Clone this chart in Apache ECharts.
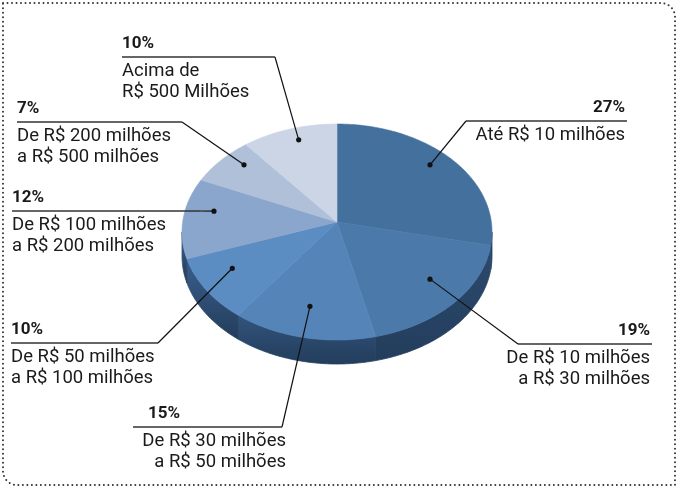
<!DOCTYPE html>
<html>
<head>
<meta charset="utf-8">
<script src="https://cdn.jsdelivr.net/npm/echarts@6/dist/echarts.min.js"></script>
<style>
  html, body { margin: 0; padding: 0; background: #fff; }
  #main { width: 678px; height: 490px; }
</style>
</head>
<body>
<div id="main"></div>
<script>
// faixas de faturamento, no sentido horário a partir do topo
const faixas = [
  'Até R$ 10 milhões',
  'De R$ 10 milhões\na R$ 30 milhões',
  'De R$ 30 milhões\na R$ 50 milhões',
  'De R$ 50 milhões\na R$ 100 milhões',
  'De R$ 100 milhões\na R$ 200 milhões',
  'De R$ 200 milhões\na R$ 500 milhões',
  'Acima de\nR$ 500 Milhões'
]
const percentuais = [27, 19, 15, 10, 12, 7, 10]

const coresTopo = ['#44709e', '#4b79aa', '#5585b8', '#5b8cc2', '#8aa6cd', '#b0c0d9', '#cbd5e5']
const coresLado = ['#2a4668', '#2c4a6e', '#32547c', '#3a5f8c', '#3a5e8a', '#3a5e8a', '#3a5e8a']

// posição dos rótulos: sublinhado de x0 a x1 na altura y, e ponto onde chega a linha guia
const rotulos = [
  { x0: 466, x1: 627, y: 121, pctX: 625, pctAlign: 'right', txtX: 625, txtAlign: 'right', ligaEm: 'x0' },
  { x0: 518, x1: 652, y: 344, pctX: 650, pctAlign: 'right', txtX: 650, txtAlign: 'right', ligaEm: 'x0' },
  { x0: 133, x1: 282, y: 427, pctX: 148, pctAlign: 'left', txtX: 286, txtAlign: 'right', ligaEm: 'x1' },
  { x0: 11, x1: 158, y: 343, pctX: 11, pctAlign: 'left', txtX: 11, txtAlign: 'left', ligaEm: 'x1' },
  { x0: 12, x1: 200, y: 211, pctX: 12, pctAlign: 'left', txtX: 12, txtAlign: 'left', ligaEm: 'x1' },
  { x0: 17, x1: 182, y: 122, pctX: 17, pctAlign: 'left', txtX: 17, txtAlign: 'left', ligaEm: 'x1' },
  { x0: 122, x1: 275, y: 57, pctX: 122, pctAlign: 'left', txtX: 122, txtAlign: 'left', ligaEm: 'x1' }
]

const myChart = echarts.init(document.getElementById('main'))

const cx = 337, cy = 232, rx = 155, ry = 108
const apexY = 222
const espessura = 24
const total = percentuais.reduce((a, b) => a + b, 0)
const inicio = []
percentuais.reduce((acc, v, i) => { inicio[i] = acc; return acc + v }, 0)

function borda (graus, dy) {
  const t = graus * Math.PI / 180
  return [cx + rx * Math.sin(t), cy - ry * Math.cos(t) + (dy || 0)]
}

function renderFatia (params, api) {
  const i = params.dataIndex
  const v = api.value(0)
  const a1 = inicio[i] / total * 360
  const a2 = a1 + v / total * 360
  const children = []

  // lateral visível (metade da frente)
  const s = Math.max(a1, 90), e = Math.min(a2, 270)
  if (e > s) {
    const pts = []
    for (let a = s; a < e; a += 1) pts.push(borda(a))
    pts.push(borda(e))
    for (let a = e; a > s; a -= 1) pts.push(borda(a, espessura))
    pts.push(borda(s, espessura))
    const grad = new echarts.graphic.LinearGradient(0, 0, 0, 1, [
      { offset: 0, color: coresLado[i] },
      { offset: 1, color: '#233d5c' }
    ])
    children.push({
      type: 'polygon',
      z2: 1,
      shape: { points: pts },
      style: { fill: grad, stroke: grad, lineWidth: 0.8 }
    })
  }

  // topo
  const topo = [[cx, apexY]]
  for (let a = a1; a < a2; a += 1) topo.push(borda(a))
  topo.push(borda(a2))
  children.push({
    type: 'polygon',
    z2: 2,
    shape: { points: topo },
    style: { fill: coresTopo[i], stroke: coresTopo[i], lineWidth: 0.6 }
  })

  // ponto e linha guia
  const meio = (a1 + a2) / 2 * Math.PI / 180
  const px = cx + rx * 0.8 * Math.sin(meio)
  const py = apexY - ry * 0.8 * Math.cos(meio)
  const r = rotulos[i]
  const lx = r.ligaEm === 'x0' ? r.x0 : r.x1
  children.push({
    type: 'polyline',
    z2: 10,
    shape: { points: [[px, py], [lx, r.y]] },
    style: { stroke: '#111', lineWidth: 1.2, fill: null }
  })
  children.push({
    type: 'line',
    z2: 10,
    shape: { x1: r.x0, y1: r.y, x2: r.x1, y2: r.y },
    style: { stroke: '#333', lineWidth: 1.4 }
  })
  children.push({
    type: 'circle',
    z2: 11,
    shape: { cx: px, cy: py, r: 2.6 },
    style: { fill: '#111' }
  })

  // textos
  children.push({
    type: 'text',
    z2: 12,
    style: {
      x: r.pctX, y: r.y - 13,
      text: v + '%',
      fill: '#1a1a1a',
      font: 'bold 17px Roboto',
      align: r.pctAlign,
      verticalAlign: 'middle'
    }
  })
  children.push({
    type: 'text',
    z2: 12,
    style: {
      x: r.txtX, y: r.y + 4,
      text: faixas[i],
      fill: '#1a1a1a',
      font: '18.5px Roboto',
      lineHeight: 21,
      align: r.txtAlign,
      verticalAlign: 'top'
    }
  })

  return { type: 'group', children }
}

const option = {
  backgroundColor: '#ffffff',
  animation: false,
  graphic: [
    {
      type: 'rect',
      shape: { x: 3, y: 3, width: 672, height: 482, r: [0, 14, 0, 14] },
      style: { fill: null, stroke: '#333', lineWidth: 2, lineDash: [0, 4.5], lineCap: 'round' },
      z: -1
    }
  ],
  series: [
    {
      type: 'custom',
      coordinateSystem: 'none',
      data: percentuais,
      renderItem: renderFatia
    }
  ]
}

myChart.setOption(option)
</script>
</body>
</html>
